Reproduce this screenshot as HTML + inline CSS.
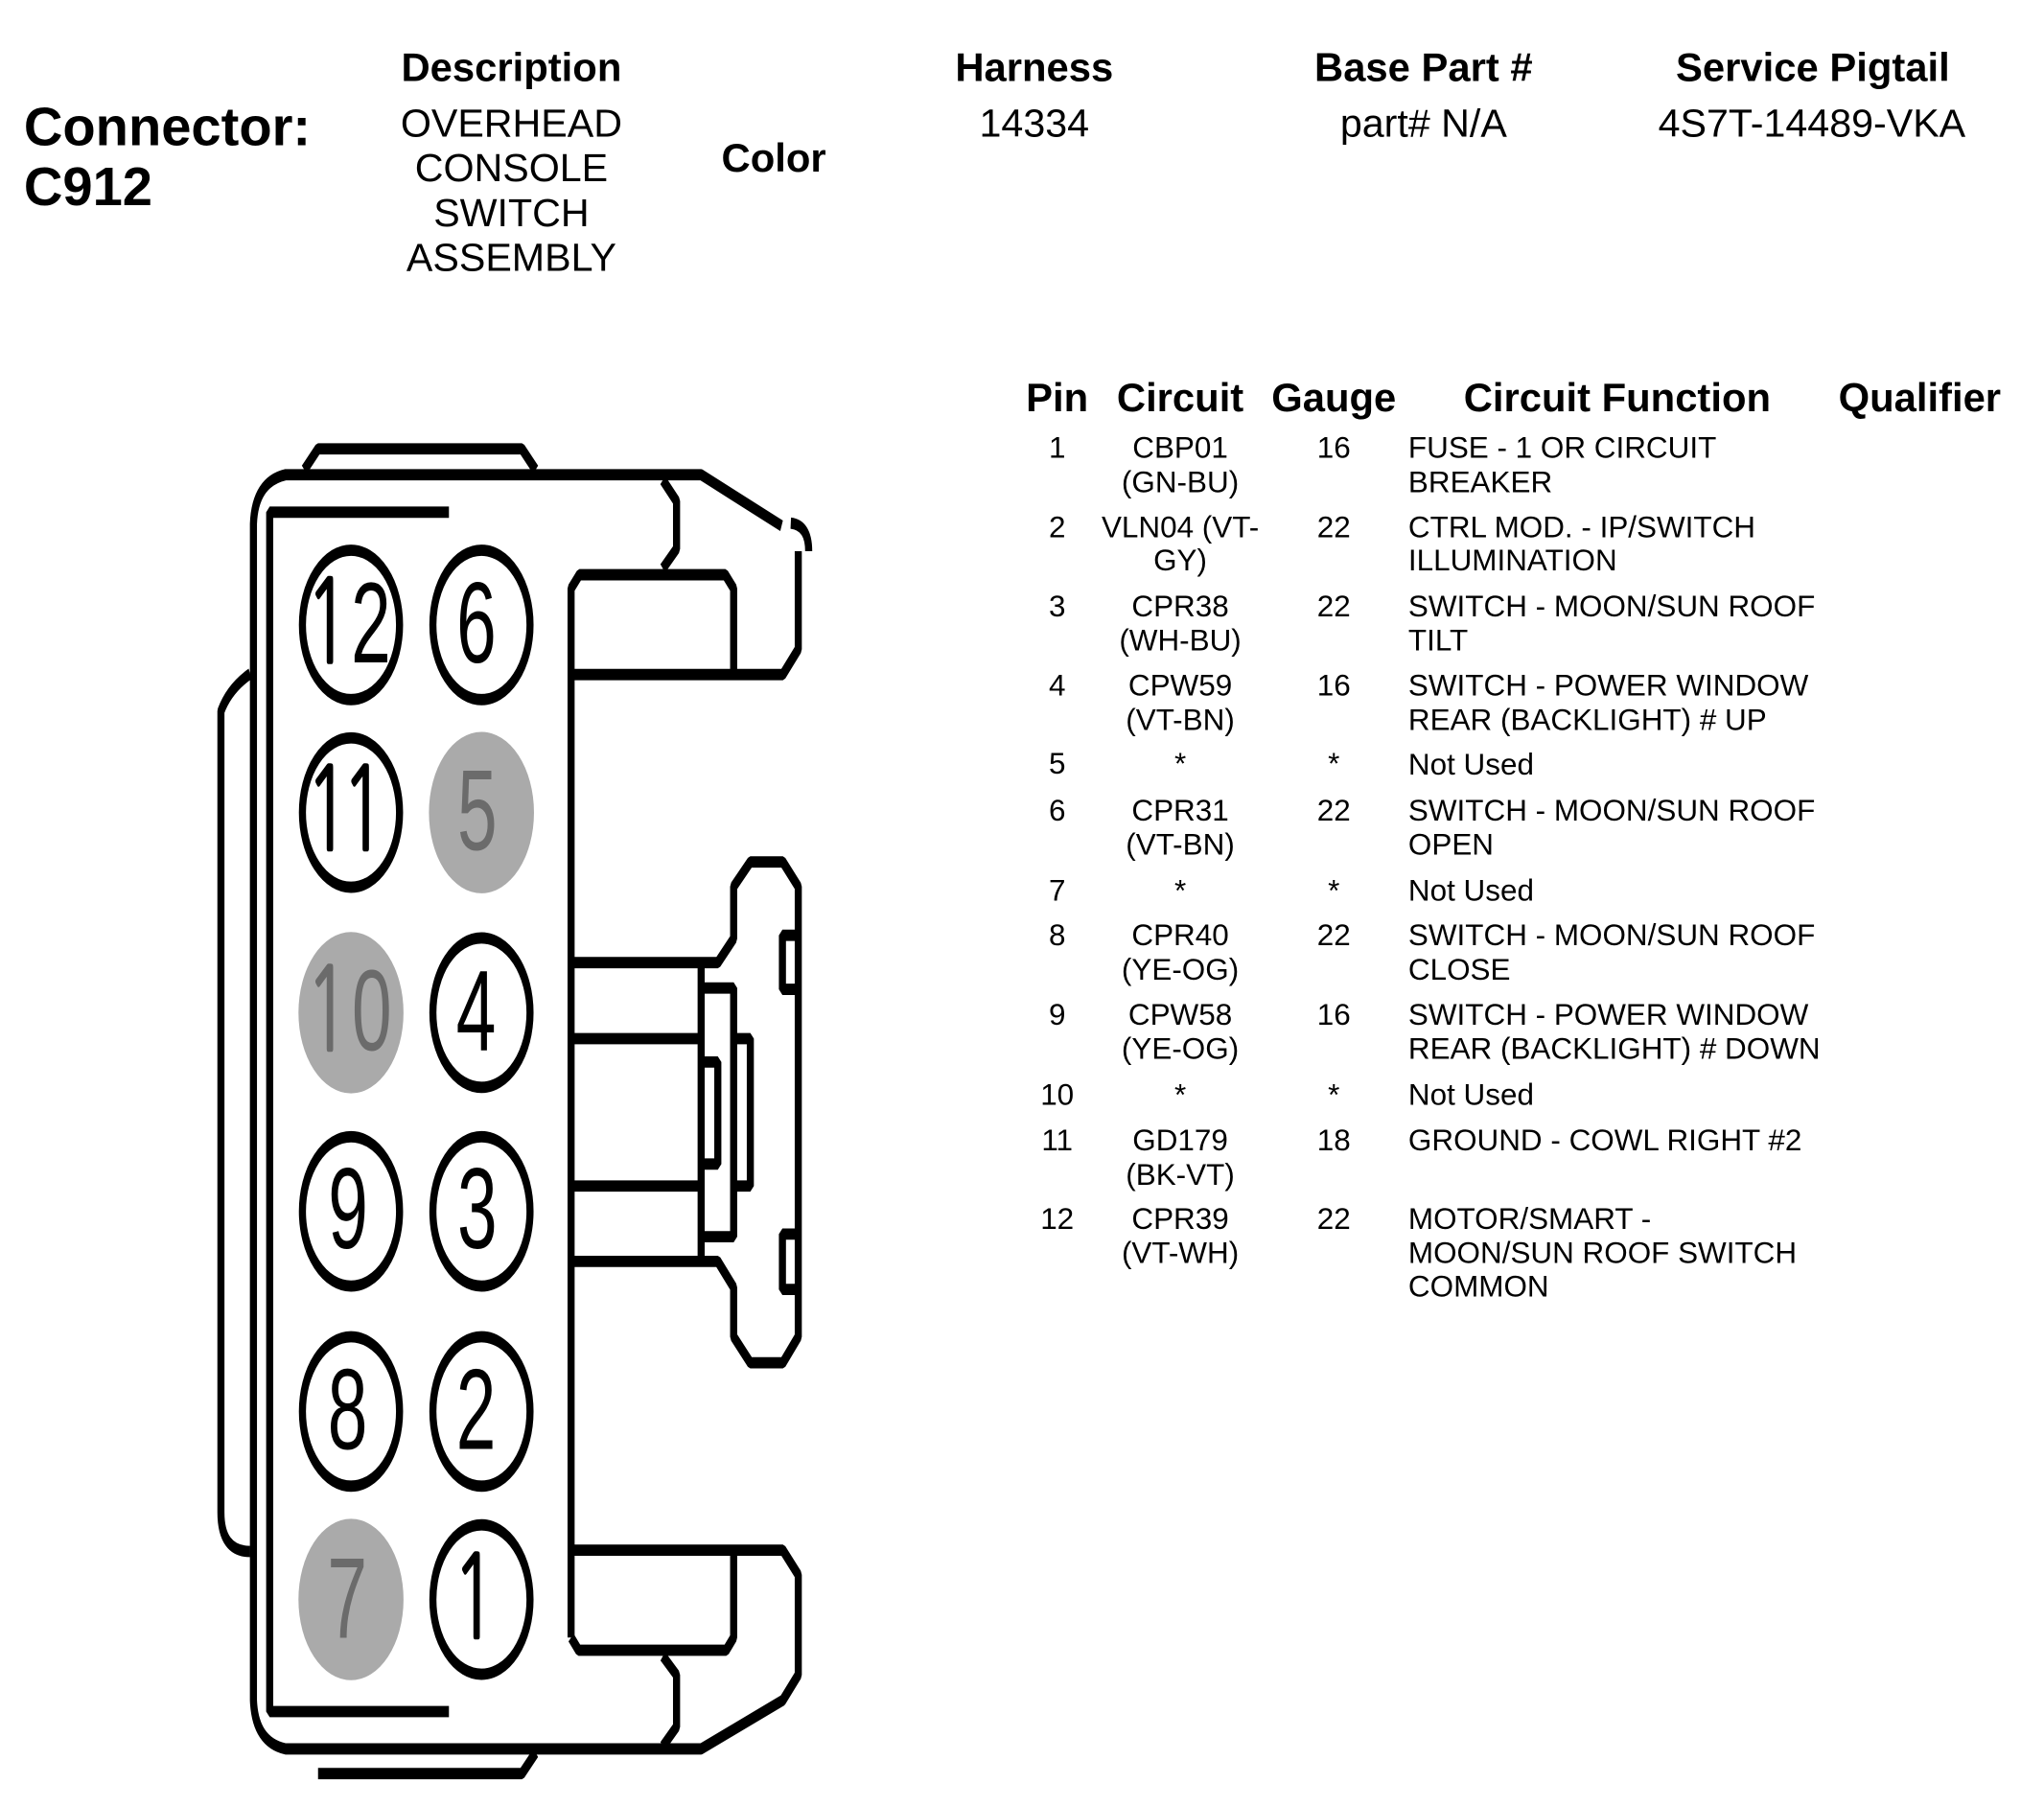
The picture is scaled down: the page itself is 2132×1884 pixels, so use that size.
<!DOCTYPE html>
<html><head><meta charset="utf-8"><style>
html,body{margin:0;padding:0;background:#fff}
svg{display:block}
text{font-family:"Liberation Sans",Arial,sans-serif;fill:#000}
.h{font-size:42px;font-weight:bold;text-anchor:middle}
.b{font-size:41.4px;text-anchor:middle}
.c{font-size:56.4px;font-weight:bold}
.t{font-size:31.6px}
.m{text-anchor:middle}
.n{font-size:172px;text-anchor:middle}
.g{fill:#6b6b6b}
.one{font-family:"NanumGothic","Liberation Sans",sans-serif;stroke:#000;stroke-width:3.5}
.g .one{stroke:#6b6b6b}
</style></head><body>
<svg width="2132" height="1884" viewBox="0 0 2132 1884" xmlns="http://www.w3.org/2000/svg">
<rect width="2132" height="1884" fill="#fff"/>
<g transform="scale(0.9952)">
<text class="c" x="25" y="152">Connector:</text>
<text class="c" x="25" y="215">C912</text>
<text class="h" x="536" y="85">Description</text>
<text class="b" x="536" y="143">OVERHEAD</text>
<text class="b" x="536" y="190">CONSOLE</text>
<text class="b" x="536" y="237">SWITCH</text>
<text class="b" x="536" y="284">ASSEMBLY</text>
<text class="h" x="811" y="180">Color</text>
<text class="h" x="1084" y="85">Harness</text>
<text class="b" x="1084" y="143">14334</text>
<text class="h" x="1492" y="85">Base Part #</text>
<text class="b" x="1492" y="143">part# N/A</text>
<text class="h" x="1900" y="85">Service Pigtail</text>
<text class="b" x="1899" y="143">4S7T-14489-VKA</text>

<text class="h" x="1108" y="431">Pin</text>
<text class="h" x="1237" y="431">Circuit</text>
<text class="h" x="1398" y="431">Gauge</text>
<text class="h" x="1695" y="431">Circuit Function</text>
<text class="h" x="2012" y="431">Qualifier</text>

<text class="t m" x="1108" y="480">1</text><text class="t m" x="1237" y="480">CBP01</text><text class="t m" x="1237" y="516">(GN-BU)</text><text class="t m" x="1398" y="480">16</text><text class="t" x="1476" y="480">FUSE - 1 OR CIRCUIT</text><text class="t" x="1476" y="516">BREAKER</text>
<text class="t m" x="1108" y="563">2</text><text class="t m" x="1237" y="563">VLN04 (VT-</text><text class="t m" x="1237" y="598">GY)</text><text class="t m" x="1398" y="563">22</text><text class="t" x="1476" y="563">CTRL MOD. - IP/SWITCH</text><text class="t" x="1476" y="598">ILLUMINATION</text>
<text class="t m" x="1108" y="646">3</text><text class="t m" x="1237" y="646">CPR38</text><text class="t m" x="1237" y="682">(WH-BU)</text><text class="t m" x="1398" y="646">22</text><text class="t" x="1476" y="646">SWITCH - MOON/SUN ROOF</text><text class="t" x="1476" y="682">TILT</text>
<text class="t m" x="1108" y="729">4</text><text class="t m" x="1237" y="729">CPW59</text><text class="t m" x="1237" y="765">(VT-BN)</text><text class="t m" x="1398" y="729">16</text><text class="t" x="1476" y="729">SWITCH - POWER WINDOW</text><text class="t" x="1476" y="765">REAR (BACKLIGHT) # UP</text>
<text class="t m" x="1108" y="811">5</text><text class="t m" x="1237" y="811">*</text><text class="t m" x="1398" y="811">*</text><text class="t" x="1476" y="812">Not Used</text>
<text class="t m" x="1108" y="860">6</text><text class="t m" x="1237" y="860">CPR31</text><text class="t m" x="1237" y="896">(VT-BN)</text><text class="t m" x="1398" y="860">22</text><text class="t" x="1476" y="860">SWITCH - MOON/SUN ROOF</text><text class="t" x="1476" y="896">OPEN</text>
<text class="t m" x="1108" y="944">7</text><text class="t m" x="1237" y="944">*</text><text class="t m" x="1398" y="944">*</text><text class="t" x="1476" y="944">Not Used</text>
<text class="t m" x="1108" y="991">8</text><text class="t m" x="1237" y="991">CPR40</text><text class="t m" x="1237" y="1027">(YE-OG)</text><text class="t m" x="1398" y="991">22</text><text class="t" x="1476" y="991">SWITCH - MOON/SUN ROOF</text><text class="t" x="1476" y="1027">CLOSE</text>
<text class="t m" x="1108" y="1074">9</text><text class="t m" x="1237" y="1074">CPW58</text><text class="t m" x="1237" y="1110">(YE-OG)</text><text class="t m" x="1398" y="1074">16</text><text class="t" x="1476" y="1074">SWITCH - POWER WINDOW</text><text class="t" x="1476" y="1110">REAR (BACKLIGHT) # DOWN</text>
<text class="t m" x="1108" y="1158">10</text><text class="t m" x="1237" y="1158">*</text><text class="t m" x="1398" y="1158">*</text><text class="t" x="1476" y="1158">Not Used</text>
<text class="t m" x="1108" y="1206">11</text><text class="t m" x="1237" y="1206">GD179</text><text class="t m" x="1237" y="1242">(BK-VT)</text><text class="t m" x="1398" y="1206">18</text><text class="t" x="1476" y="1206">GROUND - COWL RIGHT #2</text>
<text class="t m" x="1108" y="1288">12</text><text class="t m" x="1237" y="1288">CPR39</text><text class="t m" x="1237" y="1324">(VT-WH)</text><text class="t m" x="1398" y="1288">22</text><text class="t" x="1476" y="1288">MOTOR/SMART -</text><text class="t" x="1476" y="1324">MOON/SUN ROOF SWITCH</text><text class="t" x="1476" y="1359">COMMON</text>
</g>

<g transform="translate(200,440) scale(0.4348,0.6957)">
<g fill="none" stroke="#000" stroke-width="17" stroke-linejoin="bevel">
<!-- outer body -->
<path d="M1415,156 L1222,79.4 L225,79.4 Q152,90 148,153 L148,1917 Q152,1980 225,1990 L1222,1990 L1418,1917 L1455,1879 L1455,1729 L1418,1692 L910,1692"/>
<!-- top tab -->
<path d="M270,72 L303,40.6 L792,40.6 L825,72"/>
<!-- latch end -->
<path d="M1437,152 Q1480,155 1480,194"/>
<path d="M1455,194 L1455,341 L1418,379 L910,379"/>
<path d="M1130,87.5 L1163,119 L1163,190.6 L1130,220"/>
<path d="M910,1823 L910,250 L930,229.4 L1280,229.4 L1300,250 L1300,379"/>
<!-- inner frame -->
<path d="M617,135.6 L187,135.6 L187,1934 L617,1934"/>
<!-- left bump -->
<path d="M140,378 Q90,400 70,434 L70,1635 Q70,1694 140,1694"/>
<!-- bottom details -->
<path d="M1300,1692 L1300,1823 L1282,1842 L928,1842 L910,1823"/>
<path d="M1130,1851 L1163,1879 L1163,1957 L1130,1986"/>
<path d="M303,2027 L792,2027 L825,1996"/>
<!-- peg -->
<path d="M910,811 L1262,811 L1300,775 L1300,697 L1340,660 L1418,660 L1455,697 L1455,1372 L1418,1411 L1340,1411 L1300,1372 L1300,1298 L1262,1259 L910,1259"/>
<path d="M910,925 L1222,925 M910,1146 L1222,1146 M1222,811 L1222,1259"/>
<path d="M1222,849 L1300,849 L1300,1222 L1222,1222"/>
<path d="M1222,960 L1262,960 L1262,1113 L1222,1113"/>
<path d="M1300,925 L1340,925 L1340,1146 L1300,1146"/>
<path d="M1455,770 L1417,770 L1417,851 L1455,851"/>
<path d="M1455,1218 L1417,1218 L1417,1301 L1455,1301"/>
</g>
<g fill="#fff" stroke="#000" stroke-width="17">
<ellipse cx="382" cy="304.6" rx="116.5" ry="112"/>
<ellipse cx="695" cy="304.6" rx="116.5" ry="112"/>
<ellipse cx="382" cy="586" rx="116.5" ry="112"/>
<ellipse cx="695" cy="886" rx="116.5" ry="112"/>
<ellipse cx="382" cy="1184" rx="116.5" ry="112"/>
<ellipse cx="695" cy="1184" rx="116.5" ry="112"/>
<ellipse cx="382" cy="1484" rx="116.5" ry="112"/>
<ellipse cx="695" cy="1484" rx="116.5" ry="112"/>
<ellipse cx="695" cy="1766" rx="116.5" ry="112"/>
</g>
<g fill="#aaa">
<ellipse cx="695" cy="586" rx="126" ry="121"/>
<ellipse cx="382" cy="886" rx="126" ry="121"/>
<ellipse cx="382" cy="1766" rx="126" ry="121"/>
</g>
<text class="n" y="361"><tspan class="one" x="326">1</tspan><tspan x="430">2</tspan></text>
<text class="n" x="683" y="361">6</text>
<text class="n" y="642"><tspan class="one" x="326">1</tspan><tspan class="one" x="412">1</tspan></text>
<text class="n g" x="685" y="642">5</text>
<text class="n g" y="942"><tspan class="one" x="326">1</tspan><tspan x="432">0</tspan></text>
<text class="n" x="682" y="942">4</text>
<text class="n" x="375" y="1239">9</text>
<text class="n" x="685" y="1239">3</text>
<text class="n" x="374" y="1540">8</text>
<text class="n" x="682" y="1540">2</text>
<text class="n g" x="373" y="1823">7</text>
<text class="n one" x="678" y="1823">1</text>
</g>
</svg>
</body></html>
